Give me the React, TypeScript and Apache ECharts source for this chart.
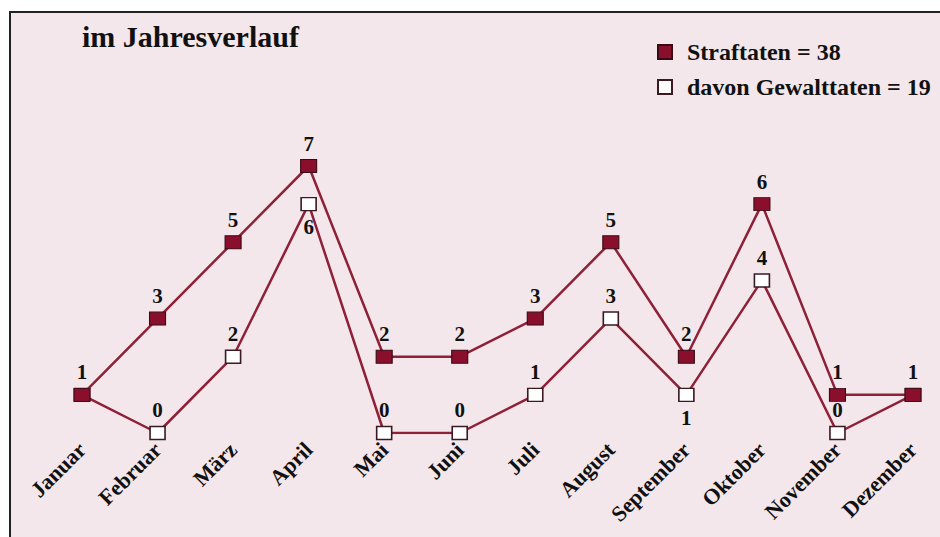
import React, { useEffect, useRef } from "react";
import * as echarts from "echarts";

const months = ["Januar", "Februar", "März", "April", "Mai", "Juni", "Juli", "August", "September", "Oktober", "November", "Dezember"];
const straftaten = [1, 3, 5, 7, 2, 2, 3, 5, 2, 6, 1, 1];
const gewalttaten = [1, 0, 2, 6, 0, 0, 1, 3, 1, 4, 0, 1];
// label position of Gewalttaten values ("" = hidden, because it sits under the Straftaten marker)
const gewaltLabelPos = ["", "top", "top", "bottom", "top", "top", "top", "top", "bottom", "top", "top", ""];

const LINE = "#8e2038";
const FILL = "#8a0f2c";
const FONT = "'Liberation Serif', 'DejaVu Serif', serif";

export default function App() {
  const ref = useRef<HTMLDivElement>(null);
  useEffect(() => {
    const chart = echarts.init(ref.current!, null, { renderer: "svg" });
    const sum = (a: number[]) => a.reduce((s, v) => s + v, 0);
    const nameS = "Straftaten";
    const nameG = "davon Gewalttaten";
    chart.setOption({
      animation: false,
      backgroundColor: "#ffffff",
      graphic: [
        {
          type: "rect",
          z: -10,
          silent: true,
          shape: { x: 10, y: 12, width: 940, height: 540 },
          style: { fill: "#f3e7eb", stroke: "#222", lineWidth: 2 },
        },
        {
          type: "text",
          left: 82,
          top: 21,
          style: { text: "im Jahresverlauf", fontFamily: FONT, fontWeight: "bold", fontSize: 30, fill: "#111" },
        },
      ],
      legend: {
        orient: "vertical",
        left: 652,
        top: 35,
        itemWidth: 14,
        itemHeight: 14,
        itemGap: 11,
        icon: "rect",
        data: [nameS, nameG],
        formatter: (n: string) => (n === nameS ? `${n} = ${sum(straftaten)}` : `${n} = ${sum(gewalttaten)}`),
        textStyle: { fontFamily: FONT, fontWeight: "bold", fontSize: 24, color: "#111", padding: [0, 0, 0, 10] },
      },
      grid: { left: 82, right: 27, top: 166, bottom: 104 },
      xAxis: {
        type: "category",
        data: months,
        boundaryGap: false,
        axisLine: { show: false },
        axisTick: { show: false },
        axisLabel: {
          rotate: 45,
          margin: 13,
          interval: 0,
          fontFamily: FONT,
          fontWeight: "bold",
          fontSize: 22,
          color: "#111",
        },
      },
      yAxis: { type: "value", min: 0, max: 7, show: false, splitLine: { show: false } },
      series: [
        {
          name: nameG,
          type: "line",
          data: gewalttaten.map((v, i) => ({
            value: v,
            label: gewaltLabelPos[i] ? { show: true, position: gewaltLabelPos[i] } : { show: false },
          })),
          symbol: "rect",
          symbolSize: [15, 13],
          lineStyle: { color: LINE, width: 2.5 },
          itemStyle: { color: "#ffffff", borderColor: "#3a1a22", borderWidth: 1.5 },
          label: { fontFamily: FONT, fontWeight: "bold", fontSize: 21, color: "#111", distance: 5 },
          z: 2,
        },
        {
          name: nameS,
          type: "line",
          data: straftaten,
          symbol: "rect",
          symbolSize: [16, 13],
          lineStyle: { color: LINE, width: 2.5 },
          itemStyle: { color: FILL, borderColor: "#3a0a14", borderWidth: 1 },
          label: { show: true, position: "top", fontFamily: FONT, fontWeight: "bold", fontSize: 21, color: "#111", distance: 5 },
          z: 3,
        },
      ],
    });
    return () => chart.dispose();
  }, []);
  return <div ref={ref} style={{ position: "absolute", left: 0, top: 0, width: 940, height: 537 }} />;
}
